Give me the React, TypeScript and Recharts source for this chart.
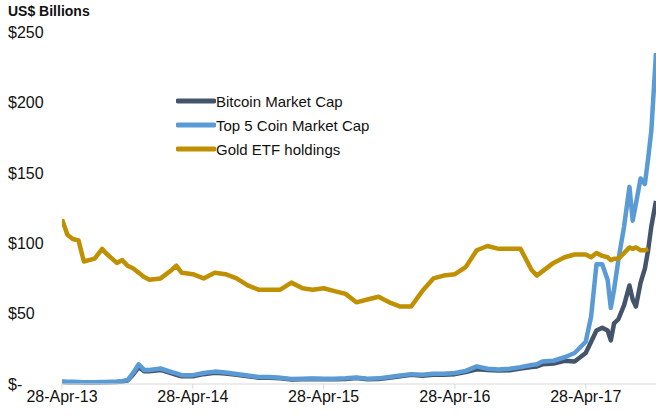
import { Legend, Line, LineChart, XAxis, YAxis } from "recharts";

const FONT = "'Liberation Sans', Arial, sans-serif";

const DATES = [
  "2013-04-28", "2013-05-13", "2013-05-28", "2013-06-13", "2013-06-28", "2013-07-28",
  "2013-08-18", "2013-08-28", "2013-09-28", "2013-10-13", "2013-10-28", "2013-11-13",
  "2013-11-28", "2013-12-13", "2013-12-28", "2014-01-28", "2014-02-28", "2014-03-13",
  "2014-03-28", "2014-04-28", "2014-05-28", "2014-06-28", "2014-07-28", "2014-08-28",
  "2014-09-28", "2014-10-28", "2014-11-28", "2014-12-28", "2015-01-28", "2015-02-28",
  "2015-03-28", "2015-04-28", "2015-05-28", "2015-06-28", "2015-07-28", "2015-08-28",
  "2015-09-28", "2015-10-28", "2015-11-28", "2015-12-28", "2016-01-28", "2016-02-28",
  "2016-03-28", "2016-04-28", "2016-05-28", "2016-06-28", "2016-07-28", "2016-08-28",
  "2016-09-28", "2016-10-28", "2016-11-28", "2016-12-13", "2016-12-28", "2017-01-28",
  "2017-02-28", "2017-03-28", "2017-04-28", "2017-05-13", "2017-05-28", "2017-06-13",
  "2017-06-28", "2017-07-07", "2017-07-16", "2017-07-28", "2017-08-13", "2017-08-28",
  "2017-09-06", "2017-09-15", "2017-09-28", "2017-10-10", "2017-10-19", "2017-10-28",
  "2017-11-10",
];

const BITCOIN = [
  1.5, 1.3, 1.3, 1.2, 1.1, 1.1, 1.3, 1.3, 1.5, 1.8, 2.5, 7,
  12, 9, 9, 10, 7.5, 6.5, 5.5, 5.5, 7, 8, 7.5, 6.5,
  5.5, 4.5, 4.5, 4, 3.2, 3.3, 3.5, 3.3, 3.4, 3.6, 4.2, 3.3,
  3.5, 4.5, 5.5, 6.5, 5.8, 6.5, 6.5, 7, 8.5, 10.5, 10, 9.5,
  9.8, 11, 12, 12.5, 14, 14.5, 16.5, 16, 22, 30, 38, 40,
  38, 31, 43, 46, 56, 70, 60, 55, 72, 82, 95, 112,
  130,
];

const TOP5 = [
  1.8, 1.6, 1.6, 1.5, 1.3, 1.3, 1.5, 1.5, 1.7, 2, 2.8, 8,
  14, 10, 10, 11, 8.5, 7.5, 6.3, 6.3, 7.8, 8.8, 8.2, 7.1,
  6, 5, 5, 4.4, 3.6, 3.7, 3.9, 3.7, 3.8, 4, 4.6, 3.8,
  4, 5, 6, 7, 6.5, 7.2, 7.3, 7.8, 9.3, 12.5, 10.8, 10.3,
  10.8, 12, 13.5, 14, 16, 16.5, 19, 22, 30, 48, 85, 85,
  74, 54, 67, 88, 112, 140, 116, 128, 146, 142, 160, 180,
  235,
];

const GOLD: (number | null)[] = [
  117, 106, 103, 102, 87, 89, 96, 93, 86, 88, 84, 82,
  79, 76, 74, 75, 81, 84, 79, 78, 75, 79, 78, 75,
  70, 67, 67, 67, 72, 68, 67, 68, 66, 64, 58, 60,
  62, 58, 55, 55, 66, 75, 77, 78, 83, 95, 98, 96,
  96, 96, 81, 77, 80, 86, 90, 92, 92, 90, 93, 91,
  90, 88, 89, 89, 93, 97, 96, 97, 95, 95, 96, null,
  null,
];

const X_TICKS = ["2013-04-28", "2014-04-28", "2015-04-28", "2016-04-28", "2017-04-28"];
const X_LABELS = ["28-Apr-13", "28-Apr-14", "28-Apr-15", "28-Apr-16", "28-Apr-17"];
const Y_TICKS = [0, 50, 100, 150, 200, 250];
const Y_LABELS = ["$-", "$50", "$100", "$150", "$200", "$250"];

const SERIES = [
  { key: "bitcoin", name: "Bitcoin Market Cap", color: "#44546a" },
  { key: "top5", name: "Top 5 Coin Market Cap", color: "#5b9bd5" },
  { key: "gold", name: "Gold ETF holdings", color: "#bf9000" },
];

const toTime = (d: string) => Date.parse(d + "T00:00:00Z");

const data = DATES.map((d, i) => ({
  t: toTime(d),
  bitcoin: BITCOIN[i],
  top5: TOP5[i],
  gold: GOLD[i],
}));

const xTickValues = X_TICKS.map(toTime);

function YTick(props: any) {
  const idx = Y_TICKS.indexOf(props.payload.value);
  return (
    <text x={8} y={props.y} dy="0.36em" textAnchor="start" fontSize={16} fontFamily={FONT} fill="#111">
      {Y_LABELS[idx]}
    </text>
  );
}

function renderLegend() {
  return (
    <div style={{ fontFamily: FONT, fontSize: 15, color: "#111" }}>
      {SERIES.map((s) => (
        <div key={s.key} style={{ display: "flex", alignItems: "center", height: 24 }}>
          <svg width={40} height={8}>
            <line x1={2} y1={4} x2={38} y2={4} stroke={s.color} strokeWidth={5} strokeLinecap="round" />
          </svg>
          <span>{s.name}</span>
        </div>
      ))}
    </div>
  );
}

export default function App() {
  return (
    <div style={{ position: "absolute", left: 0, top: 0, width: 656, height: 417, background: "#fff" }}>
      <div
        style={{
          position: "absolute",
          left: 8,
          top: 3,
          fontFamily: FONT,
          fontSize: 14,
          fontWeight: "bold",
          color: "#111",
        }}
      >
        US$ Billions
      </div>
      <LineChart width={656} height={417} data={data} margin={{ top: 32, right: 0, bottom: 0, left: 0 }}>
        <XAxis
          dataKey="t"
          type="number"
          scale="time"
          domain={[toTime("2013-04-28"), toTime("2017-11-10")]}
          ticks={xTickValues}
          tickFormatter={(v: number) => X_LABELS[xTickValues.indexOf(v)] ?? ""}
          height={33}
          axisLine={{ stroke: "#d9d9d9" }}
          tickLine={{ stroke: "#d9d9d9" }}
          tickSize={5}
          tick={{ fontSize: 16, fontFamily: FONT, fill: "#111" }}
          allowDataOverflow
        />
        <YAxis
          type="number"
          domain={[0, 250]}
          ticks={Y_TICKS}
          width={62}
          axisLine={false}
          tickLine={false}
          tick={YTick}
        />
        <Legend
          content={renderLegend}
          layout="vertical"
          align="center"
          verticalAlign="middle"
          wrapperStyle={{ left: 176, top: 89, width: 260 }}
        />
        {SERIES.map((s) => (
          <Line
            key={s.key}
            dataKey={s.key}
            name={s.name}
            stroke={s.color}
            strokeWidth={4.5}
            strokeLinejoin="round"
            dot={false}
            activeDot={false}
            type="linear"
            isAnimationActive={false}
          />
        ))}
      </LineChart>
    </div>
  );
}
